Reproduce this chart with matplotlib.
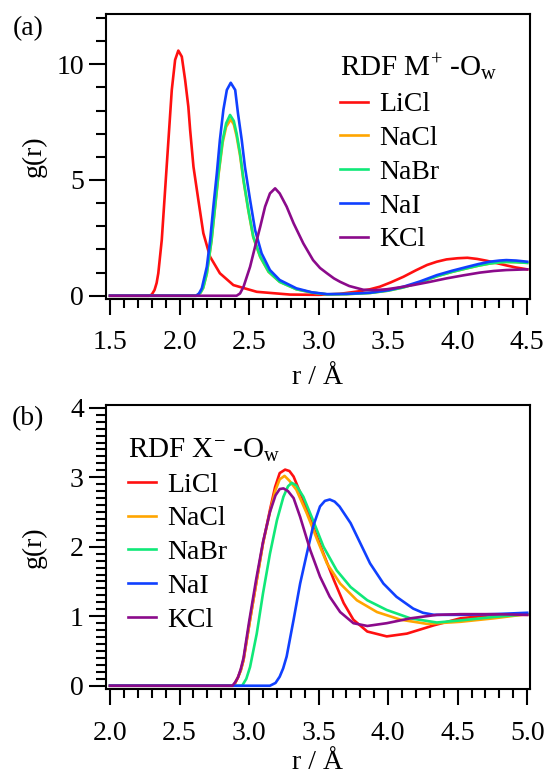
import matplotlib
matplotlib.use("Agg")
import matplotlib.pyplot as plt
from matplotlib.ticker import MultipleLocator

plt.rcParams["font.family"] = ["Liberation Serif", "DejaVu Serif"]
plt.rcParams["mathtext.fontset"] = "custom"
plt.rcParams["mathtext.rm"] = "Liberation Serif"
plt.rcParams["mathtext.it"] = "Liberation Serif:italic"

salts = ["LiCl", "NaCl", "NaBr", "NaI", "KCl"]
colors = ["#ff1010", "#ffa500", "#10e878", "#1040ff", "#8b0a8b"]

# (a) M+ - Ow
r_a = {
    "LiCl": [1.50, 1.78, 1.80, 1.82, 1.835, 1.847, 1.872, 1.896, 1.92, 1.944, 1.968, 1.991, 2.016,
             2.04, 2.063, 2.076, 2.10, 2.135, 2.171, 2.219, 2.29, 2.387, 2.555, 2.795, 3.0, 3.15,
             3.30, 3.37, 3.44, 3.52, 3.61, 3.70, 3.78, 3.85, 3.92, 4.0, 4.07, 4.14, 4.21, 4.28,
             4.35, 4.42, 4.50],
    "NaCl": [1.5, 2.12, 2.15, 2.17, 2.196, 2.23, 2.255, 2.28, 2.31, 2.335, 2.368, 2.39, 2.41, 2.435,
             2.46, 2.495, 2.53, 2.58, 2.64, 2.72, 2.84, 2.95, 3.06, 3.2, 3.37, 3.5, 3.61, 3.73, 3.85,
             3.96, 4.07, 4.15, 4.23, 4.30, 4.35, 4.42, 4.50],
    "NaBr": [1.5, 2.12, 2.15, 2.17, 2.196, 2.23, 2.255, 2.28, 2.31, 2.335, 2.363, 2.39, 2.41, 2.435,
             2.46, 2.495, 2.53, 2.58, 2.64, 2.72, 2.84, 2.95, 3.06, 3.2, 3.37, 3.5, 3.61, 3.73, 3.85,
             3.96, 4.07, 4.15, 4.23, 4.30, 4.35, 4.42, 4.50],
    "NaI": [1.5, 2.12, 2.14, 2.16, 2.196, 2.22, 2.243, 2.268, 2.29, 2.315, 2.34, 2.368, 2.40, 2.42,
            2.447, 2.47, 2.507, 2.543, 2.59, 2.65, 2.72, 2.84, 2.95, 3.06, 3.2, 3.37, 3.5, 3.61,
            3.73, 3.85, 3.96, 4.07, 4.15, 4.23, 4.30, 4.35, 4.42, 4.50],
    "KCl": [1.5, 2.41, 2.435, 2.46, 2.507, 2.543, 2.58, 2.615, 2.65, 2.687, 2.72, 2.77, 2.82, 2.89,
            2.96, 3.01, 3.06, 3.11, 3.155, 3.22, 3.32, 3.40, 3.49, 3.58, 3.68, 3.80, 3.92, 4.04,
            4.16, 4.26, 4.35, 4.5],
}
g_a = {
    "LiCl": [0, 0, 0.05, 0.25, 0.55, 0.97, 2.41, 4.57, 6.73, 8.89, 10.19, 10.59, 10.33, 9.32, 8.17,
             7.16, 5.57, 4.14, 2.70, 1.69, 0.97, 0.46, 0.17, 0.05, 0.04, 0.08, 0.2, 0.28, 0.39, 0.58,
             0.82, 1.10, 1.33, 1.47, 1.57, 1.62, 1.64, 1.59, 1.51, 1.41, 1.31, 1.22, 1.14],
    "NaCl": [0, 0, 0.12, 0.33, 0.95, 2.38, 3.80, 5.22, 6.62, 7.30, 7.62, 7.40, 6.90, 6.05, 4.95,
             3.66, 2.52, 1.67, 1.03, 0.6, 0.28, 0.14, 0.06, 0.07, 0.12, 0.22, 0.36, 0.58, 0.84,
             1.03, 1.19, 1.30, 1.39, 1.44, 1.46, 1.45, 1.42],
    "NaBr": [0, 0, 0.13, 0.35, 0.97, 2.41, 3.85, 5.29, 6.73, 7.45, 7.81, 7.55, 7.02, 6.15, 5.0,
             3.70, 2.55, 1.69, 1.04, 0.6, 0.28, 0.14, 0.06, 0.07, 0.12, 0.22, 0.36, 0.58, 0.84,
             1.03, 1.19, 1.30, 1.39, 1.44, 1.46, 1.45, 1.42],
    "NaI": [0, 0, 0.1, 0.32, 1.25, 2.41, 3.85, 5.29, 6.73, 8.03, 8.89, 9.2, 8.89, 7.88, 6.73, 5.57,
            4.14, 2.84, 1.83, 1.11, 0.68, 0.32, 0.15, 0.07, 0.08, 0.13, 0.24, 0.39, 0.62, 0.89,
            1.08, 1.25, 1.37, 1.47, 1.52, 1.54, 1.52, 1.47],
    "KCl": [0, 0, 0.1, 0.39, 1.25, 2.12, 2.98, 3.85, 4.42, 4.64, 4.42, 3.85, 3.13, 2.26, 1.54,
            1.2, 0.97, 0.75, 0.6, 0.42, 0.26, 0.24, 0.28, 0.36, 0.46, 0.60, 0.75, 0.88, 1.0, 1.07,
            1.11, 1.14],
}

# (b) X- - Ow
r_b = {
    "LiCl": [2.0, 2.887, 2.90, 2.92, 2.94, 2.96, 3.007, 3.055, 3.10, 3.15, 3.187, 3.22, 3.259, 3.29,
             3.32, 3.39, 3.46, 3.535, 3.61, 3.68, 3.75, 3.85, 3.99, 4.135, 4.33, 4.52, 4.76, 5.0],
    "NaCl": [2.0, 2.887, 2.90, 2.92, 2.94, 2.96, 3.007, 3.055, 3.10, 3.15, 3.187, 3.22, 3.255, 3.29,
             3.34, 3.415, 3.49, 3.56, 3.655, 3.775, 3.92, 4.09, 4.28, 4.52, 4.76, 5.0],
    "NaBr": [2.0, 2.95, 2.98, 3.007, 3.055, 3.10, 3.15, 3.2, 3.247, 3.28, 3.307, 3.34, 3.39, 3.46,
             3.535, 3.63, 3.73, 3.85, 3.99, 4.16, 4.35, 4.52, 4.76, 5.0],
    "NaI": [2.0, 3.15, 3.19, 3.22, 3.245, 3.27, 3.32, 3.367, 3.415, 3.46, 3.51, 3.545, 3.58, 3.615,
            3.65, 3.73, 3.80, 3.87, 3.966, 4.06, 4.18, 4.25, 4.33, 4.52, 4.76, 5.0],
    "KCl": [2.0, 2.88, 2.90, 2.92, 2.94, 2.96, 3.0, 3.05, 3.10, 3.15, 3.19, 3.22, 3.247, 3.28,
            3.32, 3.367, 3.44, 3.51, 3.58, 3.655, 3.75, 3.85, 3.99, 4.16, 4.35, 4.52, 4.76, 5.0],
}
g_b = {
    "LiCl": [0, 0, 0.04, 0.12, 0.22, 0.37, 0.95, 1.52, 2.05, 2.53, 2.86, 3.06, 3.11, 3.09, 3.01,
             2.67, 2.29, 1.90, 1.52, 1.19, 0.95, 0.78, 0.71, 0.75, 0.87, 0.97, 1.02, 1.02],
    "NaCl": [0, 0, 0.04, 0.12, 0.22, 0.37, 0.95, 1.52, 2.05, 2.50, 2.80, 2.97, 3.02, 2.95, 2.82,
             2.48, 2.10, 1.76, 1.47, 1.23, 1.06, 0.95, 0.89, 0.92, 0.97, 1.03],
    "NaBr": [0, 0, 0.1, 0.27, 0.75, 1.33, 1.90, 2.38, 2.72, 2.87, 2.92, 2.88, 2.72, 2.38, 2.0,
             1.66, 1.42, 1.23, 1.09, 0.97, 0.91, 0.94, 0.99, 1.03],
    "NaI": [0, 0, 0.04, 0.13, 0.25, 0.42, 0.95, 1.47, 1.90, 2.29, 2.58, 2.66, 2.68, 2.65, 2.58,
            2.34, 2.05, 1.76, 1.47, 1.28, 1.11, 1.05, 1.02, 1.02, 1.03, 1.05],
    "KCl": [0, 0, 0.05, 0.12, 0.24, 0.40, 0.92, 1.52, 2.07, 2.50, 2.74, 2.83, 2.84, 2.80, 2.70,
            2.43, 1.95, 1.57, 1.28, 1.06, 0.90, 0.86, 0.90, 0.97, 1.02, 1.03, 1.03, 1.02],
}

FS = 20

fig = plt.figure(figsize=(5.47, 7.79), dpi=100)
ax_a = fig.add_axes([0.1938, 0.6162, 0.7751, 0.3658])
ax_b = fig.add_axes([0.1938, 0.1151, 0.7751, 0.3650])


def style_axes(ax, xlim, ylim, xmaj, ymaj, ymin, xlab_y):
    ax.set_xlim(*xlim)
    ax.set_ylim(*ylim)
    ax.xaxis.set_major_locator(MultipleLocator(xmaj))
    ax.xaxis.set_minor_locator(MultipleLocator(0.1))
    ax.yaxis.set_major_locator(MultipleLocator(ymaj))
    ax.yaxis.set_minor_locator(MultipleLocator(ymin))
    for s in ax.spines.values():
        s.set_linewidth(1.5)
    ax.tick_params(axis="x", which="major", direction="out", length=11.5, width=1.5,
                   labelsize=FS, pad=11)
    ax.tick_params(axis="x", which="minor", direction="out", length=6.5, width=1.5)
    ax.tick_params(axis="y", which="major", direction="out", length=12, width=1.5,
                   labelsize=FS, pad=4)
    ax.tick_params(axis="y", which="minor", direction="out", length=7, width=1.5)
    ax.set_xlabel("r / Å", fontsize=FS)
    ax.set_ylabel("g(r)", fontsize=FS)
    ax.xaxis.set_label_coords(0.5, xlab_y)
    ax.yaxis.set_label_coords(-0.14, 0.5)


for name, c in zip(salts, colors):
    ax_a.plot(r_a[name], g_a[name], color=c, lw=1.9, label=name, solid_joinstyle="round")
    ax_b.plot(r_b[name], g_b[name], color=c, lw=1.9, label=name, solid_joinstyle="round")

style_axes(ax_a, (1.471, 4.52), (-0.14, 12.17), 0.5, 5, 1, -0.23)
style_axes(ax_b, (1.971, 5.02), (-0.052, 4.04), 0.5, 1, 0.1, -0.215)
ax_a.set_xticks([1.5, 2.0, 2.5, 3.0, 3.5, 4.0, 4.5])
ax_a.set_xticklabels(["1.5", "2.0", "2.5", "3.0", "3.5", "4.0", "4.5"])
ax_b.set_xticks([2.0, 2.5, 3.0, 3.5, 4.0, 4.5, 5.0])
ax_b.set_xticklabels(["2.0", "2.5", "3.0", "3.5", "4.0", "4.5", "5.0"])

leg_kw = dict(frameon=False, fontsize=FS, title_fontsize=21, handlelength=1.0,
              handletextpad=0.4, labelspacing=0.3, borderpad=0, borderaxespad=0,
              alignment="left", loc="upper left")
ax_a.legend(title=r"RDF M$^{+}$ -O$_{\mathrm{w}}$", bbox_to_anchor=(0.552, 0.866), **leg_kw)
ax_b.legend(title=r"RDF X$^{-}$ -O$_{\mathrm{w}}$", bbox_to_anchor=(0.052, 0.889), **leg_kw)

fig.text(0.051, 0.963, "(a)", fontsize=FS, ha="center", va="center")
fig.text(0.051, 0.462, "(b)", fontsize=FS, ha="center", va="center")

fig.savefig("out.png", dpi=100)
